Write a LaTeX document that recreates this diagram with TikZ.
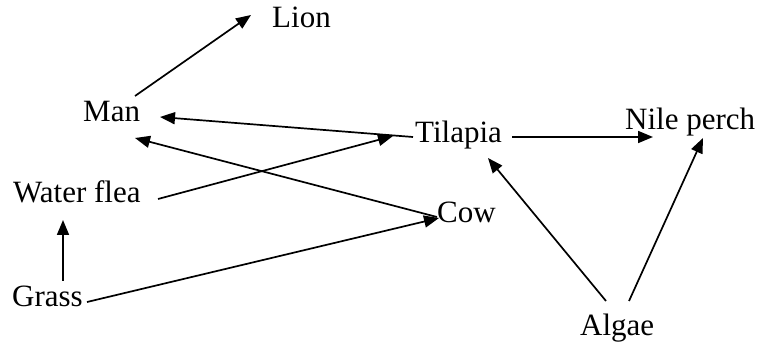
\documentclass[tikz,border=0pt]{standalone}
\usepackage{fontspec}
\setmainfont{Liberation Serif}
\usetikzlibrary{arrows.meta,calc}
\begin{document}
\begin{tikzpicture}[x=1pt,y=-1pt,
  lbl/.style={anchor=base west,inner sep=0pt,font=\fontsize{31}{35}\selectfont},
  arr/.style={line width=1.7pt,-{Triangle[length=15pt,width=12pt]}}]
\useasboundingbox (0,0) rectangle (757,344);
\node[lbl] (lion) at (272,28) {Lion};
\node[lbl] (man) at (83,122) {Man};
\node[lbl] (flea) at (13,203) {Water flea};
\node[lbl] (grass) at (12,307) {Grass};
\node[lbl] (tilapia) at (415,143) {Tilapia};
\node[lbl] (nile) at (625,130) {Nile perch};
\node[lbl] (cow) at (437,223) {Cow};
\node[lbl] (algae) at (580,335) {Algae};
\draw[arr] ($(man.base west)+(52,-26)$) -- ($(lion.base west)+(-21,-13)$);
\draw[arr] ($(tilapia.base west)+(-2,-6)$) -- ($(man.base west)+(77,-5)$);
\draw[arr] ($(cow.base west)+(0,-6)$) -- ($(man.base west)+(52,16)$);
\draw[arr] ($(flea.base west)+(145,-4)$) -- ($(tilapia.base west)+(-22,-7)$);
\draw[arr] ($(grass.base west)+(75,-5)$) -- ($(cow.base west)+(2,-5)$);
\draw[arr] ($(grass.base west)+(51,-26)$) -- ($(flea.base west)+(50,17)$);
\draw[arr] ($(tilapia.base west)+(97,-6)$) -- ($(nile.base west)+(28,7)$);
\draw[arr] ($(algae.base west)+(26,-34)$) -- ($(tilapia.base west)+(73,15)$);
\draw[arr] ($(algae.base west)+(49,-34)$) -- ($(nile.base west)+(78,8)$);
\end{tikzpicture}
\end{document}
